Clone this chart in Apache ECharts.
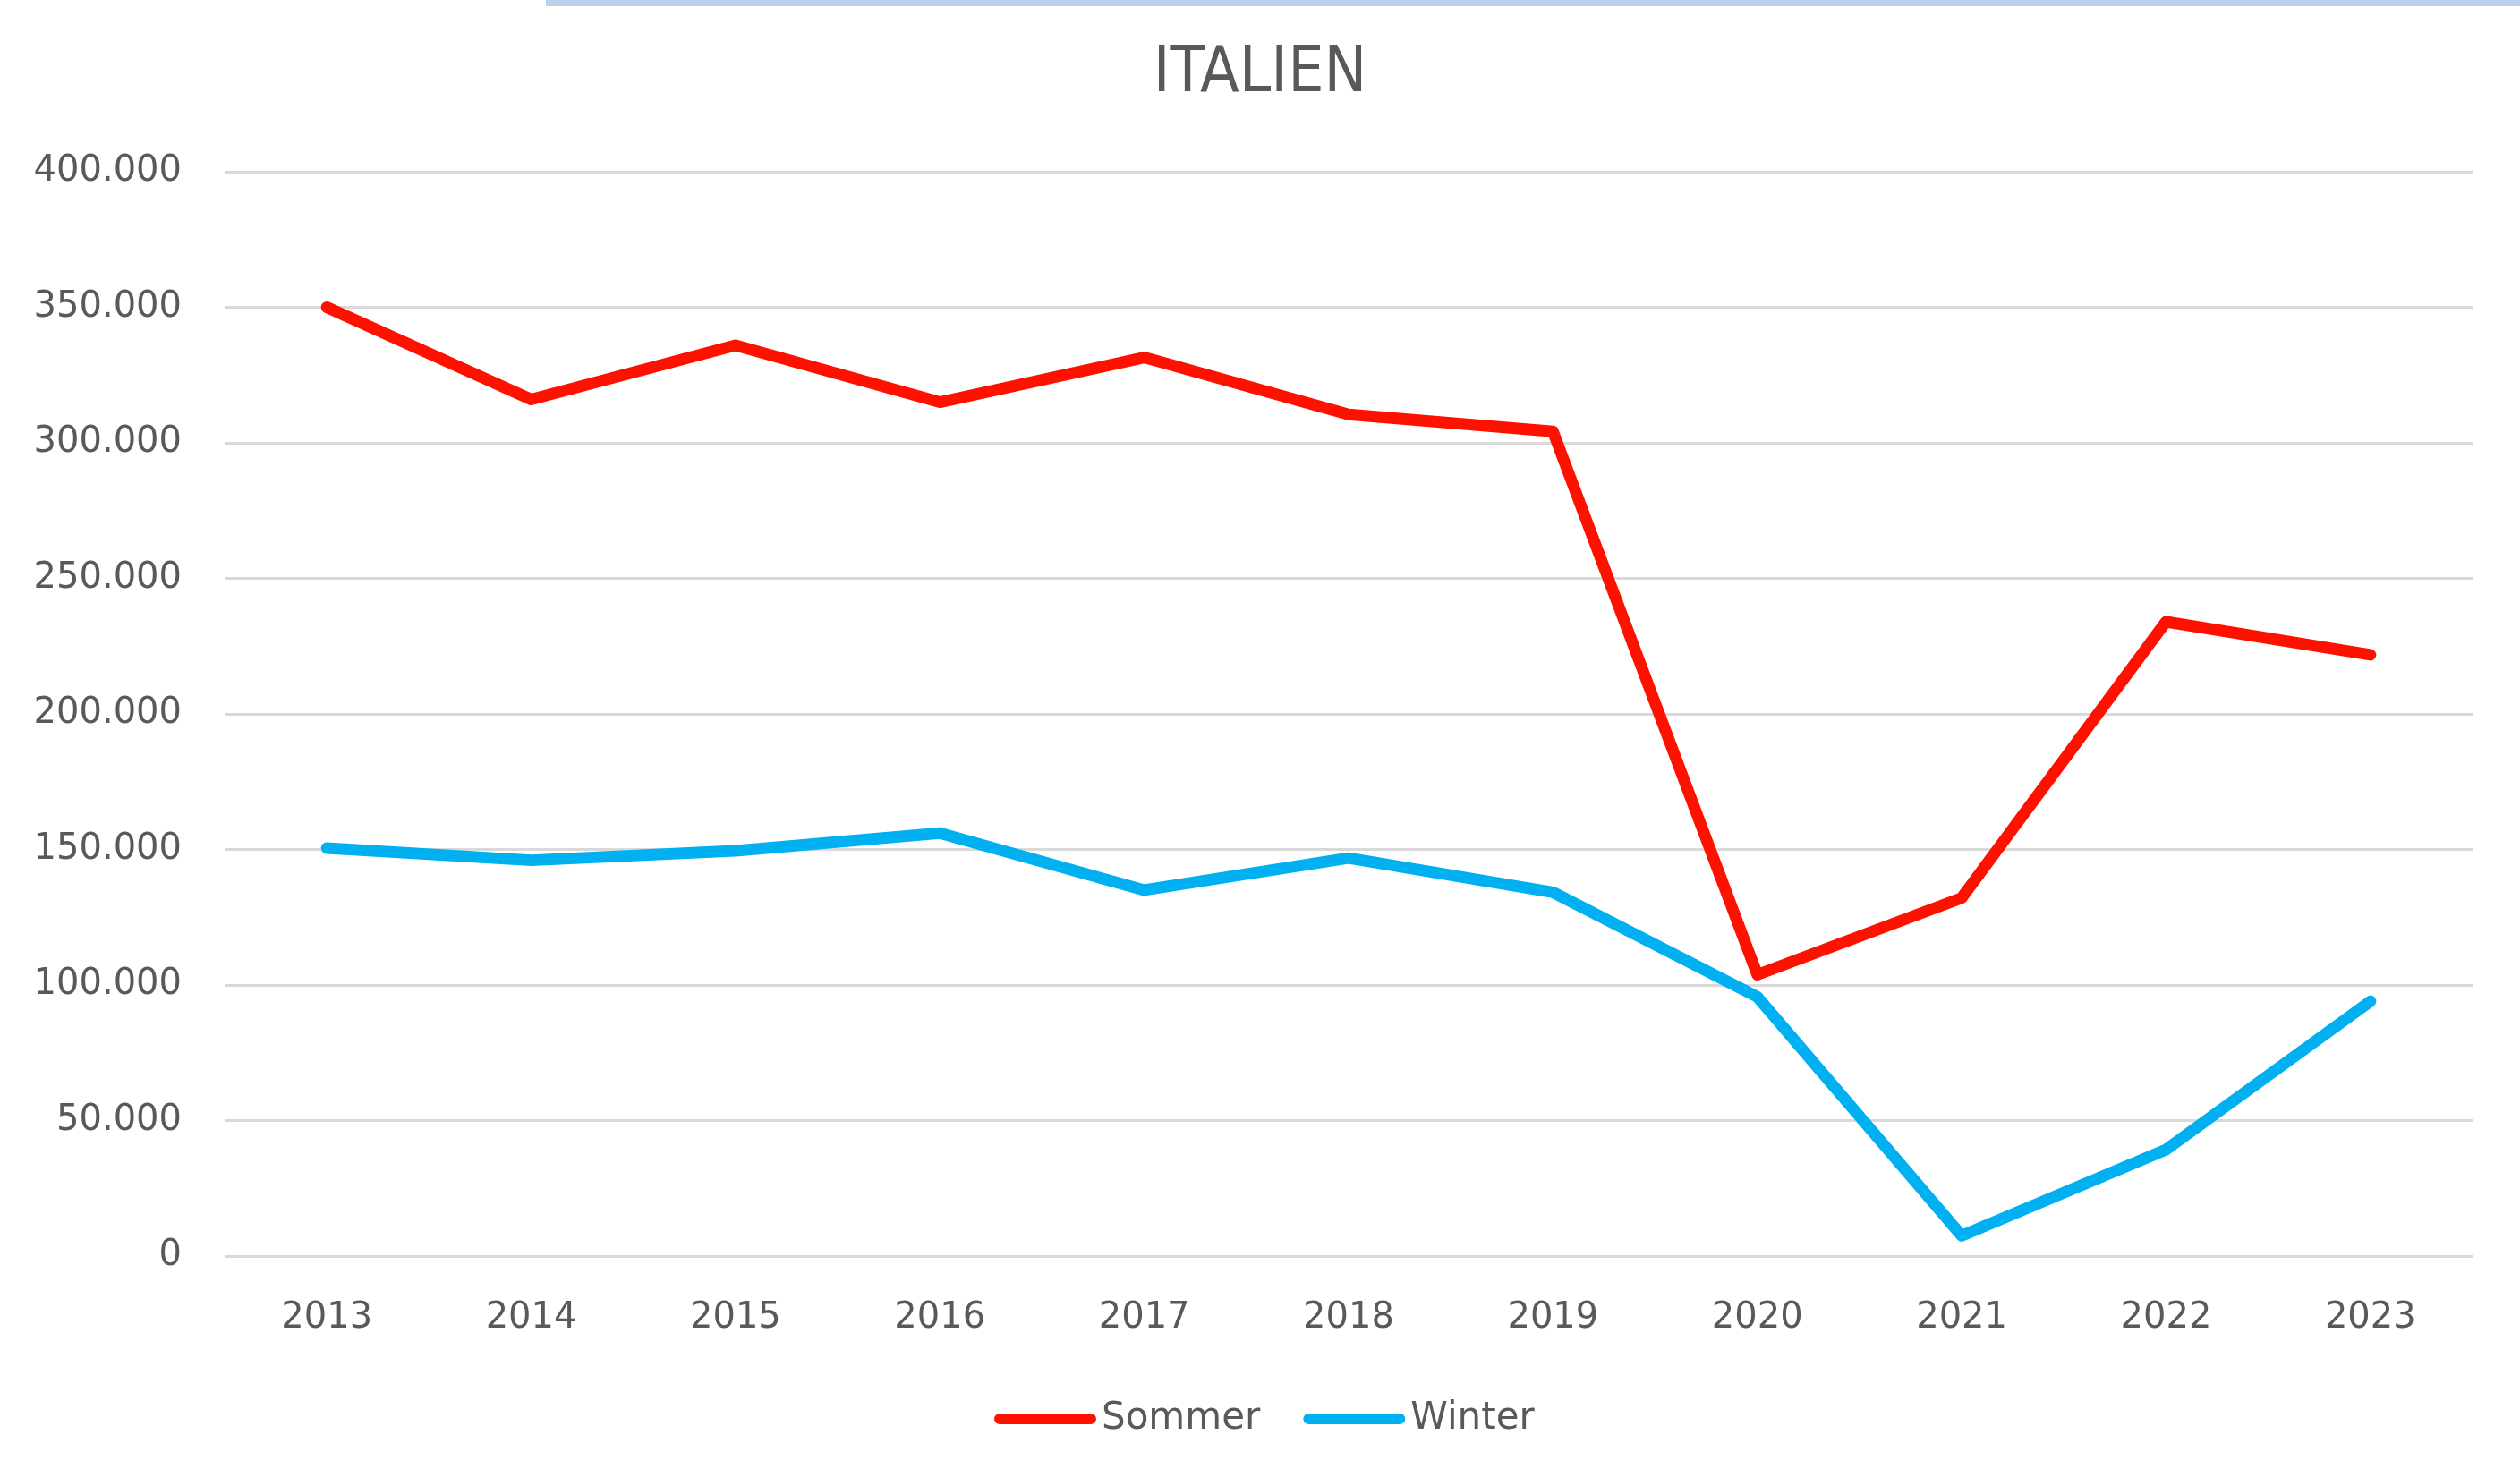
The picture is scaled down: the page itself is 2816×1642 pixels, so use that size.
<!DOCTYPE html>
<html>
<head>
<meta charset="utf-8">
<script src="https://cdn.jsdelivr.net/npm/echarts@6/dist/echarts.min.js"></script>
<style>
html,body{margin:0;padding:0;background:#fff;}
#chart{width:2816px;height:1642px;}
</style>
</head>
<body>
<div id="chart"></div>
<script>
const years = ['2013','2014','2015','2016','2017','2018','2019','2020','2021','2022','2023'];
const sommer = [350000, 316000, 336000, 315000, 331500, 310500, 304200, 103800, 132100, 234000, 221800];
const winter = [150500, 146000, 149500, 156000, 135000, 146800, 134200, 95600, 7500, 39300, 94000];
const seriesNames = ['Sommer', 'Winter'];
const titleText = 'ITALIEN';

function fmt(v){
  return String(v).replace(/\B(?=(\d{3})+(?!\d))/g, '.');
}

const chart = echarts.init(document.getElementById('chart'));
const capsule = 'path://M6,0 L106,0 A6,6 0 0 1 106,12 L6,12 A6,6 0 0 1 6,0 Z';
chart.setOption({
  backgroundColor: '#ffffff',
  animation: false,
  graphic: [{
    type: 'rect', left: 610, top: 0,
    shape: {width: 2206, height: 7},
    style: {fill: '#B9D1EC'}
  }],
  title: {
    text: titleText, left: 'center', top: 43,
    textStyle: {fontFamily: "'Liberation Sans Narrow', 'DejaVu Sans Condensed', 'Liberation Sans'", fontSize: 71, fontWeight: 'normal', color: '#595959'}
  },
  legend: {
    bottom: 30, left: 1106,
    itemWidth: 114, itemHeight: 13, itemGap: 48,
    icon: capsule,
    textStyle: {fontFamily: 'DejaVu Sans', fontSize: 42, color: '#595959', padding: [0,0,0,1]},
    data: seriesNames
  },
  grid: {left: 251, right: 53, top: 192, bottom: 238, containLabel: false},
  xAxis: {
    type: 'category', data: years, boundaryGap: true,
    axisLine: {show: false}, axisTick: {show: false},
    axisLabel: {fontFamily: 'DejaVu Sans', fontSize: 40, color: '#595959', margin: 50}
  },
  yAxis: {
    type: 'value', min: 0, max: 400000, interval: 50000,
    axisLine: {show: false}, axisTick: {show: false},
    splitLine: {lineStyle: {color: '#d9d9d9', width: 3}},
    axisLabel: {fontFamily: 'DejaVu Sans', fontSize: 40, color: '#595959', margin: 48, formatter: fmt}
  },
  series: [
    {name: seriesNames[0], type: 'line', data: sommer, symbol: 'none', color: '#FF1100',
     lineStyle: {width: 13, color: '#FF1100', cap: 'round', join: 'round'}},
    {name: seriesNames[1], type: 'line', data: winter, symbol: 'none', color: '#00B0F0',
     lineStyle: {width: 13, color: '#00B0F0', cap: 'round', join: 'round'}}
  ]
});
</script>
</body>
</html>
